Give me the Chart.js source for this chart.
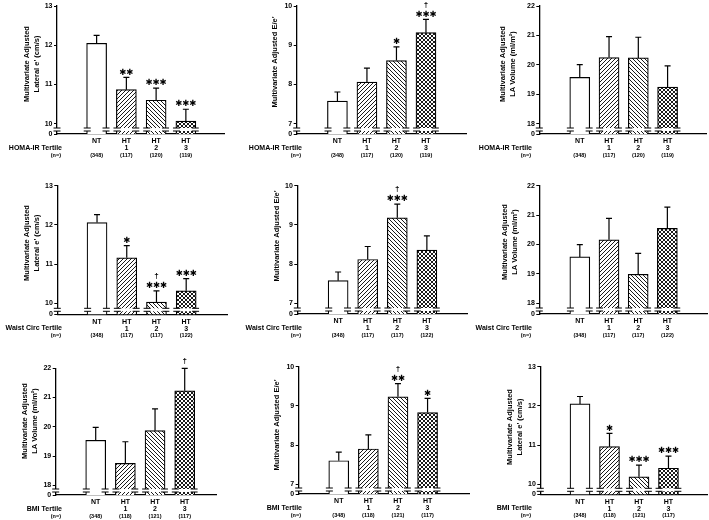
<!DOCTYPE html>
<html>
<head>
<meta charset="utf-8">
<script src="https://cdn.jsdelivr.net/npm/chart.js@4.4.1/dist/chart.umd.min.js"></script>
<style>
  html, body { margin: 0; padding: 0; background: #fff; }
  #wrap { position: relative; width: 709px; height: 520px; overflow: hidden; }
  #wrap canvas { position: absolute; }
</style>
</head>
<body>
<div id="wrap"></div>
<script>
// ---- data ----
const xTickLines = [['NT', ''], ['HT', '1'], ['HT', '2'], ['HT', '3']];
const rowLabels = ['HOMA-IR Tertile', 'Waist Circ Tertile', 'BMI Tertile'];
const homaN = ['(348)', '(117)', '(120)', '(119)'];
const waistN = ['(348)', '(117)', '(117)', '(122)'];
const bmiN = ['(348)', '(118)', '(121)', '(117)'];

const eTicks = [10, 11, 12, 13];
const eeTicks = [7, 8, 9, 10];
const laTicks = [18, 19, 20, 21, 22];

const titleE = ['Multivariate Adjusted', "Lateral e' (cm/s)"];
const titleEe = ["Multivariate Adjusted E/e'"];
const titleLA = ['Multivariate Adjusted', 'LA Volume (ml/m²)'];

// HOMA-IR row
const homaLatE = [12.05, 10.87, 10.60, 10.07];
const homaLatESe = [0.20, 0.31, 0.31, 0.30];
const homaLatEStars = ['', '**', '***', '***'];
const homaLatEDag = [false, false, false, false];

const homaEe = [7.58, 8.06, 8.61, 9.32];
const homaEeSe = [0.23, 0.36, 0.35, 0.34];
const homaEeStars = ['', '', '*', '***'];
const homaEeDag = [false, false, false, true];

const homaLA = [19.58, 20.25, 20.24, 19.25];
const homaLASe = [0.43, 0.71, 0.70, 0.72];
const homaLAStars = ['', '', '', ''];
const homaLADag = [false, false, false, false];

// Waist circumference row
const waistLatE = [12.06, 11.16, 10.03, 10.32];
const waistLatESe = [0.20, 0.31, 0.29, 0.31];
const waistLatEStars = ['', '*', '***', '***'];
const waistLatEDag = [false, false, true, false];

const waistEe = [7.58, 8.12, 9.18, 8.36];
const waistEeSe = [0.22, 0.33, 0.35, 0.36];
const waistEeStars = ['', '', '***', ''];
const waistEeDag = [false, false, true, false];

const waistLA = [19.58, 20.16, 18.99, 20.55];
const waistLASe = [0.42, 0.73, 0.71, 0.72];
const waistLAStars = ['', '', '', ''];
const waistLADag = [false, false, false, false];

// BMI row
const bmiLA = [19.54, 18.75, 19.87, 21.23];
const bmiLASe = [0.44, 0.74, 0.74, 0.77];
const bmiLAStars = ['', '', '', ''];
const bmiLADag = [false, false, false, true];

const bmiEe = [7.60, 7.90, 9.23, 8.83];
const bmiEeSe = [0.22, 0.36, 0.34, 0.36];
const bmiEeStars = ['', '', '**', '*'];
const bmiEeDag = [false, false, true, false];

const bmiLatE = [12.05, 10.96, 10.19, 10.41];
const bmiLatESe = [0.19, 0.34, 0.30, 0.31];
const bmiLatEStars = ['', '*', '***', '***'];
const bmiLatEDag = [false, false, false, false];

// ---- layout ----
const COLS = [{ x: 0, w: 240 }, { x: 240, w: 230 }, { x: 470, w: 239 }];
const ROWS = [{ y: 0, h: 170 }, { y: 170, h: 175 }, { y: 345, h: 175 }];
const Y_W = 20, X_H = 22;
const FONT = "'Liberation Sans', Arial, sans-serif";

const panels = [
  { r: 0, c: 0, mean: homaLatE, se: homaLatESe, stars: homaLatEStars, dag: homaLatEDag, ticks: eTicks, n: homaN, title: titleE,
    L: 57, R: 224, T: 6, B: 134, yMin: 9.74, yMax: 13, x0: -0.63, x1: 3.58, tx: [26.7, 36.7], ty: 64 },
  { r: 0, c: 1, mean: homaEe, se: homaEeSe, stars: homaEeStars, dag: homaEeDag, ticks: eeTicks, n: homaN, title: titleEe,
    L: 56.7, R: 226.7, T: 6, B: 134, yMin: 6.74, yMax: 10, x0: -0.66, x1: 3.66, tx: [35], ty: 62 },
  { r: 0, c: 2, mean: homaLA, se: homaLASe, stars: homaLAStars, dag: homaLADag, ticks: laTicks, n: homaN, title: titleLA,
    L: 69.3, R: 236, T: 6, B: 134, yMin: 17.66, yMax: 22, x0: -0.67, x1: 3.6, tx: [33, 43], ty: 64 },
  { r: 1, c: 0, mean: waistLatE, se: waistLatESe, stars: waistLatEStars, dag: waistLatEDag, ticks: eTicks, n: waistN, title: titleE,
    L: 57.3, R: 227.7, T: 15.7, B: 144.3, yMin: 9.72, yMax: 13, x0: -0.62, x1: 3.68, tx: [26.7, 36.7], ty: 73 },
  { r: 1, c: 1, mean: waistEe, se: waistEeSe, stars: waistEeStars, dag: waistEeDag, ticks: eeTicks, n: waistN, title: titleEe,
    L: 57.3, R: 227.7, T: 15.7, B: 144, yMin: 6.73, yMax: 10, x0: -0.66, x1: 3.66, tx: [36.7], ty: 66 },
  { r: 1, c: 2, mean: waistLA, se: waistLASe, stars: waistLAStars, dag: waistLADag, ticks: laTicks, n: waistN, title: titleLA,
    L: 69.3, R: 237, T: 15.7, B: 144, yMin: 17.64, yMax: 22, x0: -0.67, x1: 3.64, tx: [35, 45], ty: 72 },
  { r: 2, c: 0, mean: bmiLA, se: bmiLASe, stars: bmiLAStars, dag: bmiLADag, ticks: laTicks, n: bmiN, title: titleLA,
    L: 55.7, R: 216.7, T: 23.3, B: 150, yMin: 17.67, yMax: 22, x0: -0.67, x1: 3.4, tx: [25, 35], ty: 76 },
  { r: 2, c: 1, mean: bmiEe, se: bmiEeSe, stars: bmiEeStars, dag: bmiEeDag, ticks: eeTicks, n: bmiN, title: titleEe,
    L: 58.7, R: 230, T: 21.7, B: 149, yMin: 6.75, yMax: 10, x0: -0.63, x1: 3.71, tx: [36.7], ty: 80 },
  { r: 2, c: 2, mean: bmiLatE, se: bmiLatESe, stars: bmiLatEStars, dag: bmiLatEDag, ticks: eTicks, n: bmiN, title: titleE,
    L: 70.3, R: 237, T: 21.7, B: 149.3, yMin: 9.745, yMax: 13, x0: -0.64, x1: 3.6, tx: [40, 50], ty: 82 },
];

function hatch(kind) {
  const s = 4;
  const c = document.createElement('canvas');
  c.width = s; c.height = s;
  const g = c.getContext('2d');
  g.fillStyle = '#fff';
  g.fillRect(0, 0, s, s);
  g.strokeStyle = '#000';
  g.lineWidth = 0.9;
  for (let k = -1; k <= 1; k++) {
    if (kind === '/' || kind === 'x') {
      g.beginPath(); g.moveTo(k * s, s); g.lineTo(k * s + s, 0); g.stroke();
    }
    if (kind === '\\' || kind === 'x') {
      g.beginPath(); g.moveTo(k * s, 0); g.lineTo(k * s + s, s); g.stroke();
    }
  }
  return g.createPattern(c, 'repeat');
}

const fills = ['#fff', hatch('/'), hatch('\\'), hatch('x')];

// axis breaks, error bars, significance marks, n row, titles
const decor = {
  id: 'decor',
  afterDatasetsDraw(chart, args, o) {
    const { ctx, chartArea: a, scales: { x, y } } = chart;
    const bars = chart.getDatasetMeta(0).data;
    const b1 = a.bottom - 6, b2 = a.bottom - 3;
    ctx.save();

    // broken-axis marks
    ctx.fillStyle = '#fff';
    const edges = [a.left];
    bars.forEach((b) => {
      const l = b.x - b.width / 2, r = b.x + b.width / 2;
      ctx.fillRect(l - 1, b1, r - l + 2, b2 - b1);
      edges.push(l + 0.6, r - 0.6);
    });
    ctx.fillRect(a.left - 1.5, b1, 3, b2 - b1);
    ctx.strokeStyle = '#000';
    ctx.lineWidth = 1;
    edges.forEach((e) => {
      [b1, b2].forEach((yy) => {
        ctx.beginPath(); ctx.moveTo(e - 3.5, yy); ctx.lineTo(e + 3.5, yy); ctx.stroke();
      });
    });

    // error bars + stars
    ctx.lineWidth = 1.2;
    ctx.fillStyle = '#000';
    ctx.textAlign = 'center';
    ctx.textBaseline = 'middle';
    o.mean.forEach((m, i) => {
      const px = x.getPixelForValue(i);
      const y0 = y.getPixelForValue(m);
      const y1 = y.getPixelForValue(m + o.se[i]);
      ctx.beginPath();
      ctx.moveTo(px, y0); ctx.lineTo(px, y1);
      ctx.moveTo(px - 3, y1); ctx.lineTo(px + 3, y1);
      ctx.stroke();
      const n = o.stars[i].length;
      ctx.font = "bold 8.5px 'DejaVu Sans'";
      for (let k = 0; k < n; k++) ctx.fillText('✱', px + (k - (n - 1) / 2) * 7, y1 - 5);
      if (o.dag[i]) {
        ctx.font = `bold 8px ${FONT}`;
        ctx.fillText('†', px, y1 - (n ? 15 : 8));
      }
    });

    // n row and row labels
    ctx.font = `bold 5.5px ${FONT}`;
    o.n.forEach((t, i) => ctx.fillText(t, x.getPixelForValue(i), a.bottom + 21));
    ctx.textAlign = 'right';
    ctx.font = `bold 7px ${FONT}`;
    ctx.fillText(o.row, 62, a.bottom + 14);
    ctx.font = `bold 5.5px ${FONT}`;
    ctx.fillText('(n=)', 61, a.bottom + 21);

    // rotated y title
    ctx.font = `bold 7.5px ${FONT}`;
    ctx.textAlign = 'center';
    o.title.forEach((t, i) => {
      ctx.save();
      ctx.translate(o.tx[i], o.ty);
      ctx.rotate(-Math.PI / 2);
      ctx.fillText(t, 0, 0);
      ctx.restore();
    });
    ctx.restore();
  },
};

const wrap = document.getElementById('wrap');

panels.forEach((p) => {
  const col = COLS[p.c], row = ROWS[p.r];
  const cv = document.createElement('canvas');
  cv.width = col.w;
  cv.height = row.h;
  cv.style.left = col.x + 'px';
  cv.style.top = row.y + 'px';
  wrap.appendChild(cv);

  new Chart(cv, {
    type: 'bar',
    data: {
      datasets: [{
        data: p.mean.map((v, i) => ({ x: i, y: v })),
        backgroundColor: fills,
        borderColor: '#000',
        borderWidth: 1.2,
        barThickness: 20,
      }],
    },
    options: {
      responsive: false,
      animation: false,
      layout: { padding: { left: p.L - Y_W, top: p.T, right: col.w - p.R, bottom: row.h - p.B - X_H } },
      plugins: {
        legend: { display: false },
        tooltip: { enabled: false },
        decor: { mean: p.mean, se: p.se, stars: p.stars, dag: p.dag, n: p.n, row: rowLabels[p.r], title: p.title, tx: p.tx, ty: p.ty },
      },
      scales: {
        x: {
          type: 'linear',
          min: p.x0,
          max: p.x1,
          grid: { display: false, drawTicks: false },
          border: { display: true, color: '#000', width: 1.3 },
          afterBuildTicks: (s) => { s.ticks = [0, 1, 2, 3].map((v) => ({ value: v })); },
          afterFit: (s) => { s.height = X_H; },
          ticks: {
            autoSkip: false,
            maxRotation: 0,
            padding: 4,
            color: '#000',
            font: { family: FONT, size: 7, weight: 'bold', lineHeight: 1 },
            callback: (v) => xTickLines[v] || '',
          },
        },
        y: {
          min: p.yMin,
          max: p.yMax,
          grid: { display: true, drawOnChartArea: false, drawTicks: true, tickLength: 3, color: '#000', lineWidth: 1 },
          border: { display: true, color: '#000', width: 1.3 },
          afterBuildTicks: (s) => { s.ticks = [p.yMin, ...p.ticks].map((v) => ({ value: v })); },
          afterFit: (s) => { s.width = Y_W; },
          ticks: {
            autoSkip: false,
            padding: 1.5,
            color: '#000',
            font: { family: FONT, size: 7, weight: 'bold' },
            callback: (v) => (v === p.yMin ? '0' : String(v)),
          },
        },
      },
    },
    plugins: [decor],
  });
});
</script>
</body>
</html>
